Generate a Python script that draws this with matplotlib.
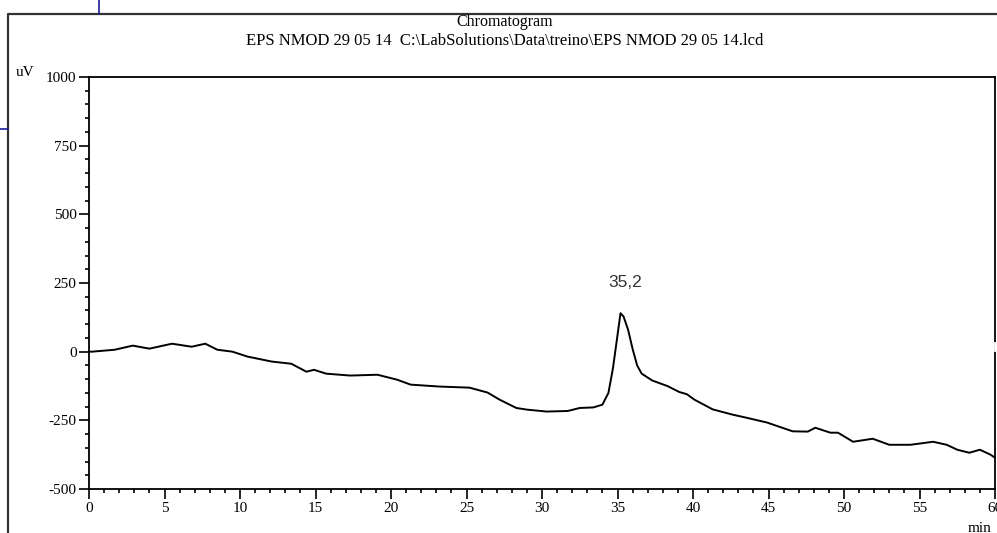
import matplotlib
matplotlib.use("Agg")
import matplotlib.pyplot as plt
from matplotlib.lines import Line2D
from matplotlib.ticker import MultipleLocator

# retention time (min) and detector signal (uV)
time_min = [0.0, 0.2, 1.7, 2.9, 4.0, 5.5, 6.8, 7.7, 8.5, 9.5, 10.5, 12.1, 13.4,
            14.4, 14.9, 15.7, 17.3, 19.1, 20.4, 21.3, 23.2, 25.2, 26.4, 27.2,
            28.3, 29.0, 30.3, 31.7, 32.5, 33.4, 34.0, 34.4, 34.7, 35.0, 35.2,
            35.4, 35.7, 36.0, 36.3, 36.6, 37.3, 38.3, 39.1, 39.6, 40.1, 41.3,
            42.6, 43.5, 44.9, 46.6, 47.6, 48.1, 49.1, 49.6, 50.6, 51.9, 53.0,
            54.4, 55.9, 56.8, 57.5, 58.3, 59.0, 59.7, 60.0]
signal_uV = [0, 0, 7, 22, 11, 29, 18, 29, 7, 0, -18, -36, -44,
             -73, -66, -80, -87, -84, -102, -120, -127, -131, -149, -175,
             -205, -211, -218, -216, -205, -203, -193, -150, -60, 60, 140,
             128, 80, 10, -50, -80, -105, -125, -147, -155, -175, -210,
             -229, -240, -258, -290, -291, -277, -295, -295, -328, -317, -339,
             -339, -328, -339, -357, -368, -357, -375, -386]

peak_time = 35.2
peak_label = "35,2"
title_lines = ["Chromatogram",
               "EPS NMOD 29 05 14  C:\\LabSolutions\\Data\\treino\\EPS NMOD 29 05 14.lcd"]

W, H = 997, 533
serif = ["Liberation Serif", "DejaVu Serif"]
plt.rcParams["axes.unicode_minus"] = False

fig = plt.figure(figsize=(W / 100, H / 100), dpi=100)
ax = fig.add_axes([89 / W, 1 - 489 / H, (995 - 89) / W, (489 - 77) / H])

ax.plot(time_min, signal_uV, color="black", lw=1.4)
ax.text(peak_time + 0.3, 251, peak_label, ha="center", va="center",
        fontsize=12.5, family="Liberation Sans", color="#333333")

ax.set_xlim(0, 60)
ax.set_ylim(-500, 1000)
ax.xaxis.set_major_locator(MultipleLocator(5))
ax.xaxis.set_minor_locator(MultipleLocator(1))
ax.yaxis.set_major_locator(MultipleLocator(250))
ax.yaxis.set_minor_locator(MultipleLocator(50))
ax.tick_params(which="major", length=7, width=1.2, pad=2, labelsize=11)
ax.tick_params(which="minor", length=3, width=1.2)
for lab in ax.get_xticklabels() + ax.get_yticklabels():
    lab.set_family(serif)
for sp in ax.spines.values():
    sp.set_linewidth(1.3)

# titles and axis units
fig.text(505 / W, 1 - 22 / H, title_lines[0], ha="center", va="center",
         fontsize=11.5, family=serif)
fig.text(505 / W, 1 - 41 / H, title_lines[1], ha="center", va="center",
         fontsize=12, family=serif)
fig.text(25 / W, 1 - 73 / H, "uV", ha="center", va="center", fontsize=11,
         family=serif)
fig.text(980 / W, 1 - 528 / H, "min", ha="center", va="center", fontsize=11,
         family=serif)

# outer window frame and the blue guide lines
fig.add_artist(Line2D([8 / W, 8 / W, 1.0], [0, 1 - 14 / H, 1 - 14 / H],
                      transform=fig.transFigure, color="#333333", lw=1.6))
fig.add_artist(Line2D([99 / W, 99 / W], [1, 1 - 14 / H],
                      transform=fig.transFigure, color="#1c1c9a", lw=1.2))
fig.add_artist(Line2D([0, 8 / W], [1 - 129 / H, 1 - 129 / H],
                      transform=fig.transFigure, color="#1c1c9a", lw=1.2))
# small gap in the right border
fig.add_artist(Line2D([995 / W, 995 / W], [1 - 343 / H, 1 - 350 / H],
                      transform=fig.transFigure, color="white", lw=2))

fig.savefig("out.png", dpi=100)
